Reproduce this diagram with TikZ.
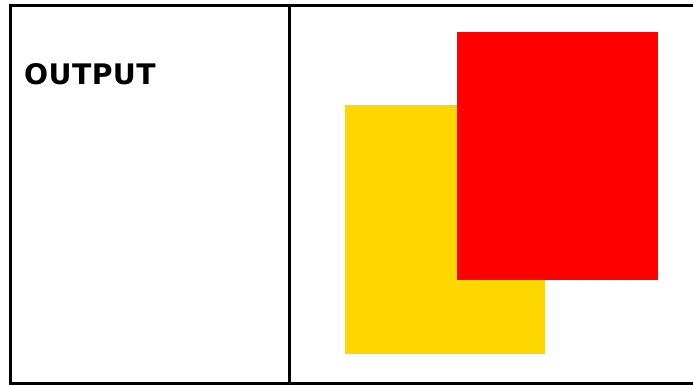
\documentclass[tikz,border=0pt]{standalone}
\usepackage{fontspec}
\setmainfont{DejaVu Sans}
\newfontfamily\lblfont[LetterSpace=1.5]{DejaVu Sans}
\definecolor{goldy}{HTML}{FFD700}
\definecolor{redy}{HTML}{FF0000}
\begin{document}
\begin{tikzpicture}[x=1pt,y=-1pt,
  frame/.style={line width=3pt,black},
  block/.style={draw=none,inner sep=0pt,outer sep=0pt,anchor=north west}]
\useasboundingbox (0,0) rectangle (693,385);
\draw[frame] (693,5.5) -- (10.5,5.5) -- (10.5,383) -- (693,383);
\draw[frame] (289,5.5) -- (289,383);
\node[anchor=base west,inner sep=0pt,font=\lblfont\bfseries\fontsize{28.3}{30}\selectfont] (lbl) at (24,84.5) {OUTPUT};
\node[block,fill=goldy,minimum width=200pt,minimum height=248pt] (yel) at (345,105.5) {};
\node[block,fill=redy,minimum width=200.5pt,minimum height=248pt] (red) at (457.3,32) {};
\end{tikzpicture}
\end{document}
